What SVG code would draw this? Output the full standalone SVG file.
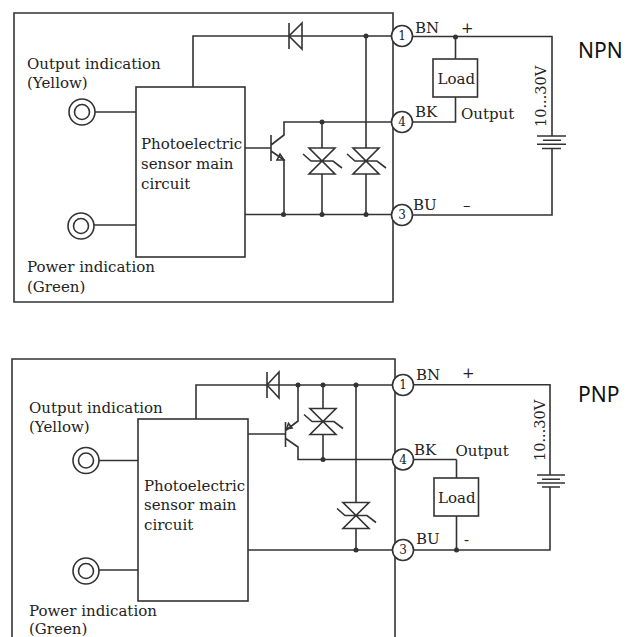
<svg xmlns="http://www.w3.org/2000/svg" width="640" height="637" viewBox="0 0 640 637">
<style>
.w{fill:none;stroke:#333;stroke-width:1.6}
.b{fill:#fff;stroke:#333;stroke-width:1.6}
.d{fill:#333;stroke:none}
.t{font-family:"DejaVu Serif","Liberation Serif",serif;font-size:15px;fill:#222}
.n{font-family:"Noto Sans","Open Sans",sans-serif;font-size:21px;fill:#111}
.c{font-size:12px;text-anchor:middle}
.r{font-size:14.500px}
</style>
<defs>
<g id="zener"><path class="w" d="M-13-13H13L-13 13H13ZM-19-7L-11 0H11L20 7"/></g>
<g id="term"><circle class="b" r="10.500"/></g>
<g id="led"><circle class="b" r="13"/><circle class="w" r="7.500"/></g>
</defs>
<rect width="640" height="637" fill="#fff"/>
<g id="connectors">
<path class="w" d="M14 13H393V302H14Z"/>
<path class="w" d="M193 87V36H392M366 36V148M366 174V214M284 214V160L271 151M271 145L284 135V122H392M322 122V148M322 174V214M245 148H271M271 135V161M245 214.500H392M95 112H136M94 225H136"/>
<path class="w" d="M412 36.500H552V136M552 148.500V215H412M455.500 37V59M455.500 97V122H412"/>
<path class="w" d="M537 136H566M543 140.200H561M537 144.200H566M542 148.500H561"/>
<path class="w" d="M12 637V359H395V637"/>
<path class="w" d="M196 419V385H393M298 385V421L285 431M285 438L298 447V459.500H393M323 385V408.500M323 434.500V459M356 385V502.500M356 528.500V550M248 434H285M285.500 422V447M248 550H393M99 460.500H138M99 570H138"/>
<path class="w" d="M413 384.700H550V475M550 487V550H413M456.500 459.500H413M456.500 459.500V478M456.500 516V550"/>
<path class="w" d="M537 475H565M542 479.200H560M537 483H565M542 487H560"/>
<path class="w" d="M289 23V49M302 23L289 36L302 49ZM267 372V398M279 372L267 385L279 398Z"/>
<path class="w" d="M280 154L277 160H284Z"/>
<path class="w" d="M286.500 429L288.500 423.500L292 428Z"/>
<g class="dots">
<circle class="d" cx="366" cy="36" r="2.500"/><circle class="d" cx="455.500" cy="37" r="2.500"/><circle class="d" cx="322" cy="122" r="2.500"/><circle class="d" cx="283.500" cy="214.500" r="2.500"/><circle class="d" cx="322" cy="214.500" r="2.500"/><circle class="d" cx="366" cy="214.500" r="2.500"/>
<circle class="d" cx="298" cy="385" r="2.500"/><circle class="d" cx="323" cy="385" r="2.500"/><circle class="d" cx="356" cy="385" r="2.500"/><circle class="d" cx="323" cy="459.500" r="2.500"/><circle class="d" cx="356" cy="550" r="2.500"/><circle class="d" cx="456.500" cy="550" r="2.500"/>
</g>
</g>
<use href="#zener" x="322" y="161"/><use href="#zener" x="366" y="161"/>
<use href="#zener" x="323" y="421.500"/><use href="#zener" x="356" y="515.500"/>
<g id="npn-indicator-output"><use href="#led" x="82" y="112"/><text class="t" x="27" y="69">Output indication</text><text class="t" x="27" y="88">(Yellow)</text></g>
<g id="npn-indicator-power"><use href="#led" x="81" y="226"/><text class="t" x="27" y="272">Power indication</text><text class="t" x="27" y="292">(Green)</text></g>
<g id="npn-main"><rect class="b" x="136" y="87" width="109" height="170"/><text class="t" x="141" y="149">Photoelectric</text><text class="t" x="141" y="169">sensor main</text><text class="t" x="141" y="189">circuit</text></g>
<g id="npn-t1"><use href="#term" x="402" y="36"/><text class="t c" x="402" y="40">1</text><text class="t" x="415" y="33">BN</text></g>
<g id="npn-t4"><use href="#term" x="402" y="122"/><text class="t c" x="402" y="126">4</text><text class="t" x="415" y="117">BK</text></g>
<g id="npn-t3"><use href="#term" x="402" y="215"/><text class="t c" x="402" y="219">3</text><text class="t" x="413" y="210">BU</text></g>
<g id="npn-load"><rect class="b" x="433" y="59" width="44.500" height="38"/><text class="t" x="437.500" y="84">Load</text></g>
<g id="npn-labels"><text class="t" x="461" y="33">+</text><text class="t" x="463" y="210">–</text><text class="t" x="461" y="119">Output</text><text class="t r" transform="translate(546 127) rotate(-90)">10...30V</text><text class="n" x="578" y="58">NPN</text></g>
<g id="pnp-indicator-output"><use href="#led" x="86" y="460.500"/><text class="t" x="29" y="413">Output indication</text><text class="t" x="29" y="432">(Yellow)</text></g>
<g id="pnp-indicator-power"><use href="#led" x="86" y="571"/><text class="t" x="29" y="616">Power indication</text><text class="t" x="29" y="634">(Green)</text></g>
<g id="pnp-main"><rect class="b" x="138" y="419" width="110" height="182"/><text class="t" x="144" y="491">Photoelectric</text><text class="t" x="144" y="510">sensor main</text><text class="t" x="144" y="530">circuit</text></g>
<g id="pnp-t1"><use href="#term" x="403" y="385"/><text class="t c" x="403" y="389">1</text><text class="t" x="416" y="380">BN</text></g>
<g id="pnp-t4"><use href="#term" x="403" y="459.500"/><text class="t c" x="403" y="463.500">4</text><text class="t" x="414" y="455">BK</text></g>
<g id="pnp-t3"><use href="#term" x="403" y="550"/><text class="t c" x="403" y="554">3</text><text class="t" x="416" y="544">BU</text></g>
<g id="pnp-load"><rect class="b" x="434" y="478" width="44.500" height="38"/><text class="t" x="438" y="503">Load</text></g>
<g id="pnp-labels"><text class="t" x="462" y="378">+</text><text class="t" x="464" y="545">-</text><text class="t" x="455.500" y="456">Output</text><text class="t r" transform="translate(545 461) rotate(-90)">10...30V</text><text class="n" x="578" y="402">PNP</text></g>
</svg>
